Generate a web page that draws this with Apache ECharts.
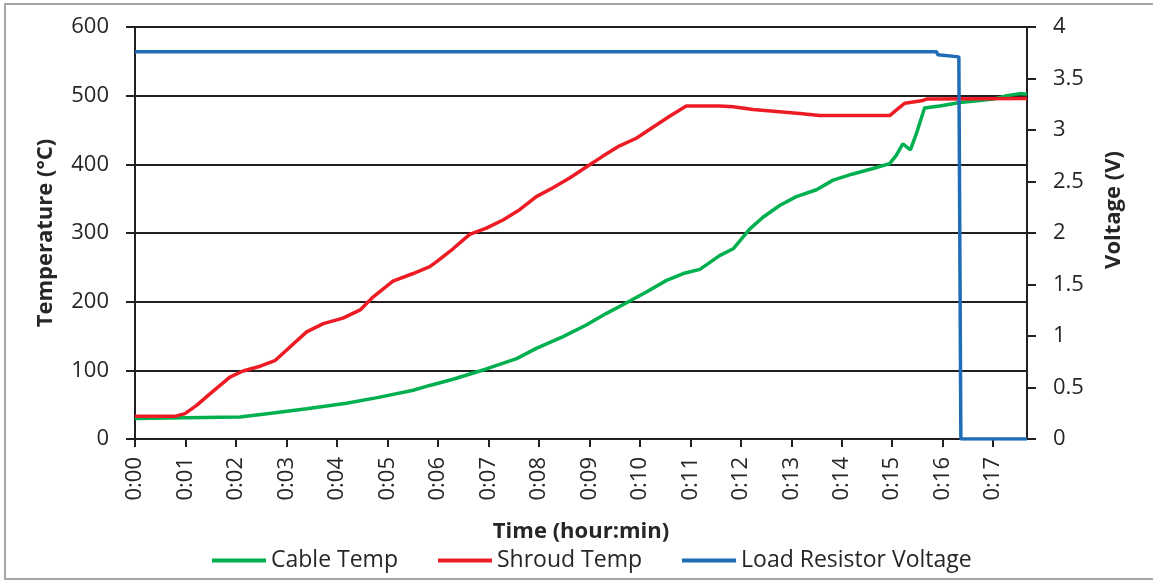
<!DOCTYPE html>
<html><head><meta charset="utf-8">
<script src="https://cdn.jsdelivr.net/npm/echarts@6/dist/echarts.min.js"></script>
<style>html,body{margin:0;padding:0;background:#fff}#c{width:1153px;height:582px}</style>
</head><body><div id="c"></div>
<script>
// ---- data (time in minutes) ----
const xTickValues = [0,1,2,3,4,5,6,7,8,9,10,11,12,13,14,15,16,17];
const xTickLabels = ['0:00','0:01','0:02','0:03','0:04','0:05','0:06','0:07','0:08','0:09','0:10','0:11','0:12','0:13','0:14','0:15','0:16','0:17'];
const tempTicks = [0,100,200,300,400,500,600];
const voltTicks = [0,0.5,1,1.5,2,2.5,3,3.5,4];

const cableTime = [0,1.0,2.08,2.74,3.4,4.19,4.85,5.51,5.84,6.30,6.96,7.56,7.95,8.48,8.94,9.34,9.73,10.13,10.53,10.86,11.19,11.58,11.85,12.18,12.44,12.77,13.10,13.50,13.83,14.22,14.62,14.95,15.08,15.21,15.36,15.48,15.64,15.94,16.34,16.73,17.0,17.27,17.53,17.67];
const cableTemp = [30,31,32,38,44,52,61,71,78,87,102,117,132,149,166,183,198,214,231,241,247,267,277,306,323,340,353,363,377,386,394,401,413,430,421,445,482,485,490,493,495,500,503,502];

const shroudTime = [0,0.79,0.99,1.22,1.49,1.88,2.14,2.48,2.77,3.07,3.4,3.73,4.12,4.46,4.72,5.11,5.51,5.84,5.97,6.30,6.63,6.96,7.29,7.62,7.95,8.28,8.61,8.94,9.27,9.60,9.93,10.26,10.59,10.92,11.58,11.85,12.24,12.71,13.17,13.56,14.95,15.08,15.25,15.61,15.68,17.67];
const shroudTemp = [33,33,37,49,66,90,99,106,114,134,156,168,176,188,207,230,241,251,258,277,298,307,319,334,353,366,380,396,412,427,438,454,470,485,485,484,480,477,474,471,471,479,489,493,495,496];

const voltTime = [0,15.88,15.9,16.32,16.35,16.36,17.67];
const voltage  = [3.76,3.76,3.73,3.71,3.71,0,0];

const zip = (a,b) => a.map((v,i)=>[v,b[i]]);
const FONT = 'Open Sans';
const TXT = '#262626';
const AX = '#231f20';

const chart = echarts.init(document.getElementById('c'), null, {renderer:'canvas'});
chart.setOption({
  animation:false,
  backgroundColor:'#fff',
  textStyle:{fontFamily:FONT},
  graphic:[{type:'rect', shape:{x:5,y:4,width:1160,height:575}, style:{fill:'none', stroke:'#a6a6a6', lineWidth:2}, silent:true, z:-1}],
  grid:{left:135, right:126, top:27, bottom:143},
  legend:{
    left:207, top:544, itemGap:40, itemWidth:54, itemHeight:4, icon:'rect',
    textStyle:{fontFamily:FONT, fontSize:23, color:TXT},
    data:['Cable Temp','Shroud Temp','Load Resistor Voltage']
  },
  xAxis:{
    type:'value', min:0, max:17.67, interval:1,
    name:'Time (hour:min)', nameLocation:'middle', nameGap:82,
    nameTextStyle:{fontFamily:FONT, fontSize:22, fontWeight:'bold', color:TXT},
    axisLine:{show:true, onZero:false, lineStyle:{color:AX, width:2}},
    axisTick:{show:true, inside:false, length:8, lineStyle:{color:AX, width:2}, customValues:xTickValues},
    axisLabel:{rotate:90, margin:18, fontFamily:FONT, fontSize:22, color:TXT, customValues:xTickValues,
      formatter:v=>{const i=xTickValues.indexOf(v); return i>=0?xTickLabels[i]:'';}},
    splitLine:{show:false}
  },
  yAxis:[{
    type:'value', min:0, max:600, interval:100, position:'left',
    name:'Temperature (°C)', nameLocation:'middle', nameGap:78, nameRotate:90,
    nameTextStyle:{fontFamily:FONT, fontSize:22, fontWeight:'bold', color:TXT},
    axisLine:{show:true, lineStyle:{color:AX, width:2}},
    axisTick:{show:true, inside:false, length:9, lineStyle:{color:AX, width:2}},
    axisLabel:{margin:26, fontFamily:FONT, fontSize:22, color:TXT,
      formatter:v=>tempTicks.indexOf(v)>=0?String(v):''},
    splitLine:{show:true, lineStyle:{color:AX, width:2}}
  },{
    type:'value', min:0, max:4, interval:0.5, position:'right',
    name:'Voltage (V)', nameLocation:'middle', nameGap:76, nameRotate:90,
    nameTextStyle:{fontFamily:FONT, fontSize:22, fontWeight:'bold', color:TXT, padding:[0,0,0,46]},
    axisLine:{show:true, lineStyle:{color:AX, width:2}},
    axisTick:{show:true, inside:false, length:9, lineStyle:{color:AX, width:2}},
    axisLabel:{margin:26, fontFamily:FONT, fontSize:22, color:TXT,
      formatter:v=>voltTicks.indexOf(v)>=0?String(v):''},
    splitLine:{show:false}
  }],
  series:[
    {name:'Cable Temp', type:'line', yAxisIndex:0, data:zip(cableTime,cableTemp), showSymbol:false, symbol:'none',
      lineStyle:{color:'#00b04f', width:3.5}, itemStyle:{color:'#00b04f'}},
    {name:'Shroud Temp', type:'line', yAxisIndex:0, data:zip(shroudTime,shroudTemp), showSymbol:false, symbol:'none',
      lineStyle:{color:'#ed1c24', width:3.5}, itemStyle:{color:'#ed1c24'}},
    {name:'Load Resistor Voltage', type:'line', yAxisIndex:1, data:zip(voltTime,voltage), showSymbol:false, symbol:'none',
      lineStyle:{color:'#1f6db7', width:3.5}, itemStyle:{color:'#1f6db7'}}
  ]
});
</script></body></html>
